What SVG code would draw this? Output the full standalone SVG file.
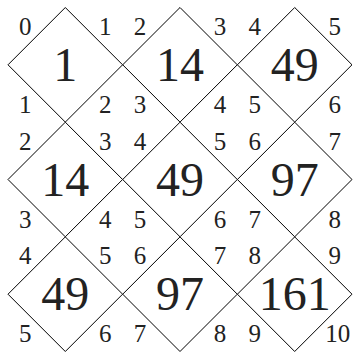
<svg xmlns="http://www.w3.org/2000/svg" width="353" height="352" viewBox="0 0 353 352">
<style>
.d{fill:none;stroke:#000;stroke-width:1}
text{font-family:'Liberation Serif',serif;fill:#222;text-anchor:middle}
.b{font-size:48px}
.s{font-size:25px}
</style>
<defs>
<polygon id="dia" class="d" points="0,-57.3 57.3,0 0,57.3 -57.3,0"/>
</defs>
<g id="connectors"></g>
<g id="n1" transform="translate(65.3,64.8)"><use href="#dia"/><text class="b" y="16">1</text><text class="s" x="-40" y="-30">0</text><text class="s" x="40" y="-30">1</text><text class="s" x="-40" y="48">1</text><text class="s" x="40" y="48">2</text></g>
<g id="n2" transform="translate(180,64.8)"><use href="#dia"/><text class="b" y="16">14</text><text class="s" x="-40" y="-30">2</text><text class="s" x="40" y="-30">3</text><text class="s" x="-40" y="48">3</text><text class="s" x="40" y="48">4</text></g>
<g id="n3" transform="translate(294.7,64.8)"><use href="#dia"/><text class="b" y="16">49</text><text class="s" x="-40" y="-30">4</text><text class="s" x="40" y="-30">5</text><text class="s" x="-40" y="48">5</text><text class="s" x="40" y="48">6</text></g>
<g id="n4" transform="translate(65.3,179.5)"><use href="#dia"/><text class="b" y="16">14</text><text class="s" x="-40" y="-30">2</text><text class="s" x="40" y="-30">3</text><text class="s" x="-40" y="48">3</text><text class="s" x="40" y="48">4</text></g>
<g id="n5" transform="translate(180,179.5)"><use href="#dia"/><text class="b" y="16">49</text><text class="s" x="-40" y="-30">4</text><text class="s" x="40" y="-30">5</text><text class="s" x="-40" y="48">5</text><text class="s" x="40" y="48">6</text></g>
<g id="n6" transform="translate(294.7,179.5)"><use href="#dia"/><text class="b" y="16">97</text><text class="s" x="-40" y="-30">6</text><text class="s" x="40" y="-30">7</text><text class="s" x="-40" y="48">7</text><text class="s" x="40" y="48">8</text></g>
<g id="n7" transform="translate(65.3,294.2)"><use href="#dia"/><text class="b" y="16">49</text><text class="s" x="-40" y="-30">4</text><text class="s" x="40" y="-30">5</text><text class="s" x="-40" y="48">5</text><text class="s" x="40" y="48">6</text></g>
<g id="n8" transform="translate(180,294.2)"><use href="#dia"/><text class="b" y="16">97</text><text class="s" x="-40" y="-30">6</text><text class="s" x="40" y="-30">7</text><text class="s" x="-40" y="48">7</text><text class="s" x="40" y="48">8</text></g>
<g id="n9" transform="translate(294.7,294.2)"><use href="#dia"/><text class="b" y="16">161</text><text class="s" x="-40" y="-30">8</text><text class="s" x="40" y="-30">9</text><text class="s" x="-40" y="48">9</text><text class="s" x="43" y="48">10</text></g>
</svg>
